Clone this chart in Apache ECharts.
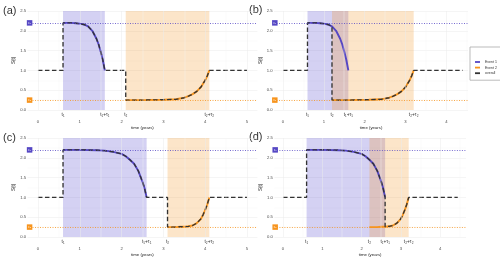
<!DOCTYPE html>
<html><head><meta charset="utf-8">
<script src="https://cdn.jsdelivr.net/npm/echarts@6/dist/echarts.min.js"></script>
<style>html,body{margin:0;padding:0;background:#fff}#c{width:500px;height:260px}</style>
</head><body><div id="c"></div><script>
// ---------- data ----------
const c1 = 2.2, c2 = 0.25;
const yTicks = [0, 0.5, 1.0, 1.5, 2.0, 2.5];
const xTicks = [0, 1, 2, 3, 4, 5];
const xMinor = [0.5, 1.5, 2.5, 3.5, 4.5];
const eventLabels = ['t\u2081', 't\u2081+\u03c4\u2081', 't\u2082', 't\u2082+\u03c4\u2082'];
const legendNames = ['Event 1', 'Event 2', 'overall'];

// (a)
const a_ev1 = [0.6, 1.6], a_ev2 = [2.1, 4.1];
const a_e1 = [[0.6,2.2],[0.8,2.2],[0.9,2.19],[1.0,2.18],[1.1,2.16],[1.2,2.11],[1.3,2.0],[1.4,1.8],[1.45,1.66],[1.5,1.48],[1.55,1.27],[1.6,1.0]];
const a_e2 = [[2.1,0.25],[2.5,0.25],[3.0,0.26],[3.3,0.27],[3.5,0.31],[3.6,0.35],[3.7,0.4],[3.8,0.47],[3.9,0.58],[4.0,0.75],[4.05,0.86],[4.1,1.0]];
const a_all = [[0,1],[0.6,1],[0.6,2.2],[0.8,2.2],[0.9,2.19],[1.0,2.18],[1.1,2.16],[1.2,2.11],[1.3,2.0],[1.4,1.8],[1.45,1.66],[1.5,1.48],[1.55,1.27],[1.6,1.0],[2.1,1.0],[2.1,0.25],[2.5,0.25],[3.0,0.26],[3.3,0.27],[3.5,0.31],[3.6,0.35],[3.7,0.4],[3.8,0.47],[3.9,0.58],[4.0,0.75],[4.05,0.86],[4.1,1.0],[5.0,1.0]];
// (b)
const b_ev1 = [0.6, 1.6], b_ev2 = [1.2, 3.2];
const b_e1 = [[0.6,2.2],[0.8,2.2],[0.9,2.19],[1.0,2.18],[1.1,2.16],[1.2,2.11],[1.3,2.0],[1.4,1.8],[1.45,1.66],[1.5,1.48],[1.55,1.27],[1.6,1.0]];
const b_e2 = [[1.2,0.25],[1.6,0.25],[2.1,0.26],[2.4,0.27],[2.6,0.31],[2.7,0.35],[2.8,0.4],[2.9,0.47],[3.0,0.58],[3.1,0.75],[3.15,0.86],[3.2,1.0]];
const b_all = [[0,1],[0.6,1],[0.6,2.2],[0.8,2.2],[0.9,2.19],[1.0,2.18],[1.1,2.16],[1.2,2.11],[1.2,0.25],[1.6,0.25],[2.1,0.26],[2.4,0.27],[2.6,0.31],[2.7,0.35],[2.8,0.4],[2.9,0.47],[3.0,0.58],[3.1,0.75],[3.15,0.86],[3.2,1.0],[4.4,1.0]];
// (c)
const c_ev1 = [0.6, 2.6], c_ev2 = [3.1, 4.1];
const c_e1 = [[0.6,2.2],[1.0,2.2],[1.4,2.19],[1.6,2.18],[1.8,2.15],[2.0,2.1],[2.1,2.04],[2.2,1.95],[2.3,1.85],[2.4,1.67],[2.5,1.4],[2.55,1.23],[2.6,1.0]];
const c_e2 = [[3.1,0.25],[3.3,0.25],[3.4,0.26],[3.5,0.26],[3.6,0.27],[3.7,0.29],[3.8,0.35],[3.9,0.46],[3.95,0.56],[4.0,0.68],[4.05,0.82],[4.1,1.0]];
const c_all = [[0,1],[0.6,1],[0.6,2.2],[1.0,2.2],[1.4,2.19],[1.6,2.18],[1.8,2.15],[2.0,2.1],[2.1,2.04],[2.2,1.95],[2.3,1.85],[2.4,1.67],[2.5,1.4],[2.55,1.23],[2.6,1.0],[3.1,1.0],[3.1,0.25],[3.3,0.25],[3.4,0.26],[3.5,0.26],[3.6,0.27],[3.7,0.29],[3.8,0.35],[3.9,0.46],[3.95,0.56],[4.0,0.68],[4.05,0.82],[4.1,1.0],[5.0,1.0]];
// (d)
const d_ev1 = [0.6, 2.6], d_ev2 = [2.2, 3.2];
const d_e1 = [[0.6,2.2],[1.0,2.2],[1.4,2.19],[1.6,2.18],[1.8,2.15],[2.0,2.1],[2.1,2.04],[2.2,1.95],[2.3,1.85],[2.4,1.67],[2.5,1.4],[2.55,1.23],[2.6,1.0]];
const d_e2 = [[2.2,0.25],[2.4,0.25],[2.5,0.26],[2.6,0.26],[2.7,0.27],[2.8,0.29],[2.9,0.35],[3.0,0.46],[3.05,0.56],[3.1,0.68],[3.15,0.82],[3.2,1.0]];
const d_all = [[0,1],[0.6,1],[0.6,2.2],[1.0,2.2],[1.4,2.19],[1.6,2.18],[1.8,2.15],[2.0,2.1],[2.1,2.04],[2.2,1.95],[2.3,1.85],[2.4,1.67],[2.5,1.4],[2.55,1.23],[2.6,1.0],[2.6,0.26],[2.7,0.27],[2.8,0.29],[2.9,0.35],[3.0,0.46],[3.05,0.56],[3.1,0.68],[3.15,0.82],[3.2,1.0],[4.45,1.0]];

// ---------- layout / style ----------
const FONT = 'Liberation Sans';
const PURPLE = '#5547c4', ORANGE = '#f7941d', DARK = '#333333';
const panels = [
  {tag:'(a)', ev1:a_ev1, ev2:a_ev2, e1:a_e1, e2:a_e2, all:a_all, xr:[-0.25,5.25], g:{left:27.5, top:11, width:229.9, height:99}, tagPos:[3,5]},
  {tag:'(b)', ev1:b_ev1, ev2:b_ev2, e1:b_e1, e2:b_e2, all:b_all, xr:[-0.22,4.53], g:{left:274, top:11, width:194, height:99}, tagPos:[249,4]},
  {tag:'(c)', ev1:c_ev1, ev2:c_ev2, e1:c_e1, e2:c_e2, all:c_all, xr:[-0.25,5.25], g:{left:27.5, top:138, width:229.9, height:99}, tagPos:[3,132]},
  {tag:'(d)', ev1:d_ev1, ev2:d_ev2, e1:d_e1, e2:d_e2, all:d_all, xr:[-0.22,4.66], g:{left:274.4, top:138, width:191.6, height:99}, tagPos:[249,131]}
];

const grids = [], xAxes = [], yAxes = [], series = [], graphics = [];
const lab = {fontFamily: FONT, fontSize: 4.2, color: '#4d4d4d'};

panels.forEach((p, i) => {
  grids.push(Object.assign({containLabel:false}, p.g));
  const inR = v => v >= p.xr[0] && v <= p.xr[1];
  const evVals = [p.ev1[0], p.ev1[1], p.ev2[0], p.ev2[1]];
  xAxes.push({
    type:'value', gridIndex:i, min:p.xr[0], max:p.xr[1],
    axisLine:{show:false}, axisTick:{show:false}, splitLine:{show:false},
    axisLabel:Object.assign({customValues: xTicks.filter(inR), margin:9.5, formatter: v => String(v)}, lab),
    name:'time (years)', nameLocation:'middle', nameGap:16,
    nameTextStyle:{fontFamily:FONT, fontSize:4.3, color:'#222'}
  });
  xAxes.push({
    type:'value', gridIndex:i, min:p.xr[0], max:p.xr[1], position:'bottom',
    axisLine:{show:false}, axisTick:{show:false}, splitLine:{show:false},
    axisLabel:Object.assign({customValues: evVals, margin:2,
      formatter: v => { const k = evVals.findIndex(x => Math.abs(x - v) < 1e-9); return k >= 0 ? eventLabels[k] : ''; }},
      lab, {color:'#333', fontSize:4.8})
  });
  yAxes.push({
    type:'value', gridIndex:i, min:0, max:2.5, interval:0.5,
    axisLine:{show:false}, axisTick:{show:false},
    axisLabel:Object.assign({margin:1.5, formatter: v => v.toFixed(1)}, lab),
    splitLine:{show:true, lineStyle:{color:'#ebebeb', width:0.5}},
    minorTick:{show:false, splitNumber:2},
    minorSplitLine:{show:true, lineStyle:{color:'#f4f4f4', width:0.4}},
    name:'S(t)', nameLocation:'middle', nameGap:8.5, nameRotate:90,
    nameTextStyle:{fontFamily:FONT, fontSize:4.5, color:'#222'}
  });
  const xi = 2*i, yi = i;
  series.push({
    type:'line', xAxisIndex:xi, yAxisIndex:yi, data:[], z:1, silent:true,
    markLine:{silent:true, symbol:['none','none'], label:{show:false}, animation:false,
      data: xTicks.filter(inR).map(v => ({xAxis:v, lineStyle:{color:'#ebebeb', width:0.5, type:'solid'}}))
        .concat(xMinor.filter(inR).map(v => ({xAxis:v, lineStyle:{color:'#f4f4f4', width:0.4, type:'solid'}})))}
  });
  series.push({
    type:'line', xAxisIndex:xi, yAxisIndex:yi, data:[], z:2, silent:true,
    markArea:{silent:true, data:[
      [{xAxis:p.ev1[0], yAxis:0, itemStyle:{color:'rgba(90,79,207,0.26)'}}, {xAxis:p.ev1[1], yAxis:2.5}],
      [{xAxis:p.ev2[0], yAxis:0, itemStyle:{color:'rgba(245,150,40,0.25)'}}, {xAxis:p.ev2[1], yAxis:2.5}]
    ]},
    markLine:{silent:true, symbol:['none','none'], label:{show:false}, animation:false,
      data:[{yAxis:c1, lineStyle:{color:PURPLE, width:0.8, type:[1,1.5]}},
            {yAxis:c2, lineStyle:{color:ORANGE, width:0.8, type:[1,1.5]}}]},
    markPoint:{silent:true, animation:false, data:[
      {coord:[-0.2, c1], symbol:'rect', symbolSize:[5.5,5.5], itemStyle:{color:PURPLE},
        label:{show:true, position:'inside', formatter:'c\u2081', color:'#fff', fontSize:3, fontFamily:FONT}},
      {coord:[-0.2, c2], symbol:'rect', symbolSize:[5.5,5.5], itemStyle:{color:ORANGE},
        label:{show:true, position:'inside', formatter:'c\u2082', color:'#fff', fontSize:3, fontFamily:FONT}}
    ]}
  });
  series.push({type:'line', name:'Event 1', xAxisIndex:xi, yAxisIndex:yi, data:p.e1, showSymbol:false, symbol:'none',
    color:PURPLE, lineStyle:{color:PURPLE, width:1.9}, z:3});
  series.push({type:'line', name:'Event 2', xAxisIndex:xi, yAxisIndex:yi, data:p.e2, showSymbol:false, symbol:'none',
    color:ORANGE, lineStyle:{color:ORANGE, width:1.9}, z:3});
  series.push({type:'line', name:'overall', xAxisIndex:xi, yAxisIndex:yi, data:p.all, showSymbol:false, symbol:'none',
    color:DARK, lineStyle:{color:DARK, width:1.35, type:[4.5,2.5]}, z:4});
  graphics.push({type:'text', left:p.tagPos[0], top:p.tagPos[1],
    style:{text:p.tag, font:'11px "Liberation Sans"', fill:'#333'}});
});

const chart = echarts.init(document.getElementById('c'), null, {renderer:'canvas'});
chart.setOption({
  animation:false,
  backgroundColor:'#ffffff',
  grid:grids, xAxis:xAxes, yAxis:yAxes, series:series, graphic:graphics,
  legend:{
    data: legendNames.map(n => ({name:n, icon:'rect'})),
    orient:'vertical', left:470, top:47,
    padding:[13,4,5,5], itemGap:1.6, itemWidth:5, itemHeight:1.8,
    textStyle:{fontFamily:FONT, fontSize:3.5, color:'#333'},
    backgroundColor:'#fff', borderColor:'#aaa', borderWidth:0.8, selectedMode:false
  }
});
</script></body></html>
